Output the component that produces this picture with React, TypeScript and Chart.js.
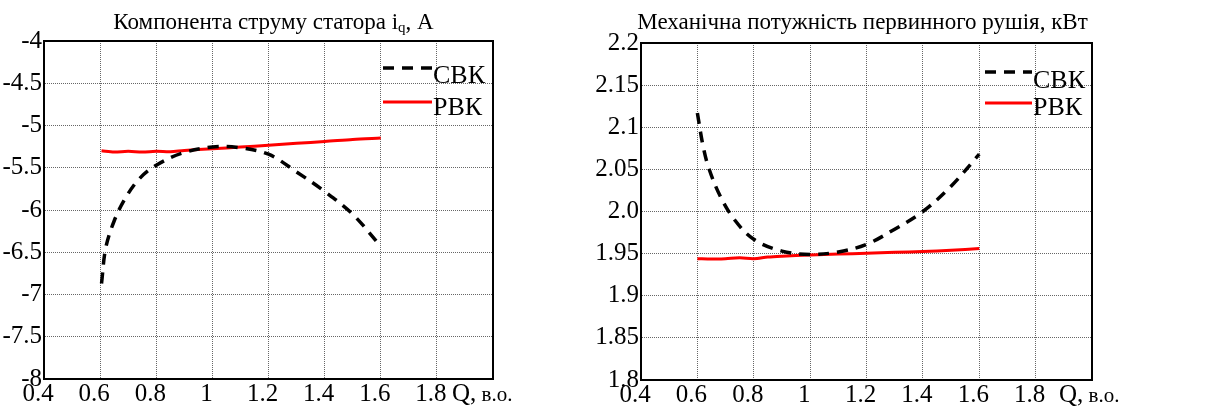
import React, { useEffect, useRef } from 'react';
import { Chart, registerables } from 'chart.js';
Chart.register(...registerables);

const FONT = '"Liberation Serif", "DejaVu Serif", serif';

// x ticks (Q, в.о.)
const xTicks = [0.4, 0.6, 0.8, 1.0, 1.2, 1.4, 1.6, 1.8, 2.0];
const xAxisUnit = 'Q,';
const xAxisUnitSmall = ' в.о.';

// Left panel: i_q component of stator current, A
const leftTitle = 'Компонента струму статора i';
const leftTitleSub = 'q';
const leftTitleTail = ', A';
const qLeftSvk = [0.605, 0.62, 0.65, 0.69, 0.74, 0.8, 0.89, 1.0, 1.09, 1.2, 1.3, 1.4, 1.5, 1.6];
const iqSvk = [-6.87, -6.45, -6.13, -5.86, -5.63, -5.47, -5.33, -5.255, -5.26, -5.34, -5.55, -5.78, -6.05, -6.43];
const qLeftRvk = [0.605, 0.65, 0.7, 0.75, 0.8, 0.85, 0.9, 1.0, 1.1, 1.2, 1.3, 1.4, 1.5, 1.6];
const iqRvk = [-5.30, -5.315, -5.305, -5.315, -5.305, -5.31, -5.295, -5.275, -5.255, -5.235, -5.21, -5.19, -5.165, -5.148];

// Right panel: mechanical power of prime mover, kW
const rightTitle = 'Механічна потужність первинного рушія, кВт';
const qRightSvk = [0.6, 0.62, 0.64, 0.68, 0.73, 0.8, 0.9, 1.0, 1.1, 1.2, 1.3, 1.4, 1.5, 1.6];
const pSvk = [2.117, 2.078, 2.052, 2.019, 1.991, 1.967, 1.953, 1.949, 1.952, 1.961, 1.979, 2.0, 2.03, 2.068];
const qRightRvk = [0.6, 0.65, 0.7, 0.75, 0.8, 0.85, 0.9, 1.0, 1.1, 1.2, 1.3, 1.4, 1.5, 1.6];
const pRvk = [1.944, 1.9435, 1.944, 1.945, 1.944, 1.946, 1.947, 1.9484, 1.9495, 1.9504, 1.9515, 1.9525, 1.954, 1.956];

const legendLabels = ['СВК', 'РВК'];
const svkColor = '#000000';
const rvkColor = '#ff0000';

type PanelCfg = {
  width: number;
  area: { left: number; top: number; right: number; bottom: number };
  title: { main: string; sub?: string; tail?: string; baseline: number; dx: number };
  xs: number[]; ys: number[]; xr: number[]; yr: number[];
  yMin: number; yMax: number; yStep: number;
  yFmt: (v: number) => string;
  legend: { lineLeft: number; lineRight: number; textLeft: number; y1: number; b1: number; y2: number; b2: number };
  unitDx: number;
};

function makeChart(canvas: HTMLCanvasElement, cfg: PanelCfg) {
  const H = 419;
  const deco = {
    id: 'deco',
    afterDraw(chart: any) {
      const { ctx, chartArea: a } = chart;
      ctx.save();
      ctx.strokeStyle = '#000';
      ctx.lineWidth = 2;
      ctx.setLineDash([]);
      ctx.strokeRect(a.left, a.top, a.right - a.left, a.bottom - a.top);
      ctx.fillStyle = '#000';
      ctx.textBaseline = 'alphabetic';
      ctx.textAlign = 'left';
      const big = `23px ${FONT}`;
      const small = `15px ${FONT}`;
      ctx.font = big;
      const w1 = ctx.measureText(cfg.title.main).width;
      ctx.font = small;
      const w2 = cfg.title.sub ? ctx.measureText(cfg.title.sub).width : 0;
      ctx.font = big;
      const w3 = cfg.title.tail ? ctx.measureText(cfg.title.tail).width : 0;
      let x = (a.left + a.right) / 2 + cfg.title.dx - (w1 + w2 + w3) / 2;
      const by = cfg.title.baseline;
      ctx.fillText(cfg.title.main, x, by);
      x += w1;
      if (cfg.title.sub) {
        ctx.font = small;
        ctx.fillText(cfg.title.sub, x, by + 3);
        x += w2;
      }
      if (cfg.title.tail) {
        ctx.font = big;
        ctx.fillText(cfg.title.tail, x, by);
      }
      const L = cfg.legend;
      ctx.lineWidth = 3.5;
      ctx.strokeStyle = svkColor;
      ctx.setLineDash([11, 8]);
      ctx.beginPath();
      ctx.moveTo(a.right + L.lineLeft, L.y1);
      ctx.lineTo(a.right + L.lineRight, L.y1);
      ctx.stroke();
      ctx.lineWidth = 3;
      ctx.strokeStyle = rvkColor;
      ctx.setLineDash([]);
      ctx.beginPath();
      ctx.moveTo(a.right + L.lineLeft, L.y2);
      ctx.lineTo(a.right + L.lineRight, L.y2);
      ctx.stroke();
      ctx.font = `26px ${FONT}`;
      ctx.fillStyle = '#000';
      ctx.fillText(legendLabels[0], a.right + L.textLeft, L.b1);
      ctx.fillText(legendLabels[1], a.right + L.textLeft, L.b2);
      const px = chart.scales.x.getPixelForValue(xTicks[xTicks.length - 1]);
      ctx.font = `25px ${FONT}`;
      const ub = a.bottom + 22;
      ctx.fillText(xAxisUnit, px + cfg.unitDx, ub);
      const qw = ctx.measureText(xAxisUnit).width;
      ctx.font = `21px ${FONT}`;
      ctx.fillText(xAxisUnitSmall, px + cfg.unitDx + qw, ub);
      ctx.restore();
    },
  };

  return new Chart(canvas, {
    type: 'line',
    data: {
      datasets: [
        {
          label: legendLabels[0],
          data: cfg.xs.map((x, i) => ({ x, y: cfg.ys[i] })),
          borderColor: svkColor,
          borderWidth: 3.5,
          borderDash: [11, 8],
          pointRadius: 0,
          tension: 0.35,
          fill: false,
        },
        {
          label: legendLabels[1],
          data: cfg.xr.map((x, i) => ({ x, y: cfg.yr[i] })),
          borderColor: rvkColor,
          borderWidth: 3,
          pointRadius: 0,
          tension: 0.3,
          fill: false,
        },
      ],
    },
    options: {
      animation: false,
      responsive: false,
      maintainAspectRatio: false,
      layout: {
        padding: { left: 0, top: cfg.area.top, right: cfg.width - cfg.area.right, bottom: 0 },
      },
      plugins: {
        legend: { display: false },
        title: { display: false },
        tooltip: { enabled: false },
      },
      scales: {
        x: {
          type: 'linear',
          min: 0.4,
          max: 2.0,
          afterBuildTicks: (s: any) => {
            s.ticks = xTicks.map((v) => ({ value: v }));
          },
          afterFit: (s: any) => {
            s.height = H - cfg.area.bottom;
          },
          ticks: {
            autoSkip: false,
            maxRotation: 0,
            padding: 0,
            labelOffset: -6,
            color: '#000',
            font: { family: FONT, size: 25 },
            callback: (v: any) => {
              const n = Number(v);
              if (Math.abs(n - 2) < 1e-9) return '';
              return String(Math.round(n * 10) / 10);
            },
          },
          grid: { color: 'rgba(0,0,0,0.6)', lineWidth: 1, drawTicks: false },
          border: { display: true, color: '#000', width: 2, dash: [1, 1] },
        },
        y: {
          type: 'linear',
          min: cfg.yMin,
          max: cfg.yMax,
          afterBuildTicks: (s: any) => {
            const t: any[] = [];
            const n = Math.round((cfg.yMax - cfg.yMin) / cfg.yStep);
            for (let i = 0; i <= n; i++) t.push({ value: cfg.yMin + i * cfg.yStep });
            s.ticks = t;
          },
          afterFit: (s: any) => {
            s.width = cfg.area.left;
          },
          ticks: {
            autoSkip: false,
            padding: 2,
            color: '#000',
            font: { family: FONT, size: 25 },
            callback: (v: any) => cfg.yFmt(Number(v)),
          },
          grid: { color: 'rgba(0,0,0,0.6)', lineWidth: 1, drawTicks: false },
          border: { display: true, color: '#000', width: 2, dash: [1, 1] },
        },
      },
    },
    plugins: [deco],
  } as any);
}

export default function App() {
  const leftRef = useRef<HTMLCanvasElement>(null);
  const rightRef = useRef<HTMLCanvasElement>(null);

  useEffect(() => {
    let cancelled = false;
    const charts: Chart[] = [];
    const build = () => {
      if (cancelled) return;
      charts.push(
        makeChart(leftRef.current!, {
          width: 585,
          area: { left: 44, top: 41, right: 493, bottom: 379 },
          title: { main: leftTitle, sub: leftTitleSub, tail: leftTitleTail, baseline: 29, dx: 5 },
          xs: qLeftSvk, ys: iqSvk, xr: qLeftRvk, yr: iqRvk,
          yMin: -8, yMax: -4, yStep: 0.5,
          yFmt: (v) => String(Math.round(v * 10) / 10),
          legend: { lineLeft: -110, lineRight: -61, textLeft: -60, y1: 68, b1: 83, y2: 102, b2: 115 },
          unitDx: -41,
        })
      );
      charts.push(
        makeChart(rightRef.current!, {
          width: 625,
          area: { left: 56, top: 43, right: 507, bottom: 380 },
          title: { main: rightTitle, baseline: 29, dx: -4 },
          xs: qRightSvk, ys: pSvk, xr: qRightRvk, yr: pRvk,
          yMin: 1.8, yMax: 2.2, yStep: 0.05,
          yFmt: (v) => (Math.abs(v - 2) < 1e-9 ? '2.0' : String(Math.round(v * 100) / 100)),
          legend: { lineLeft: -107, lineRight: -60, textLeft: -59, y1: 72, b1: 88, y2: 103, b2: 115 },
          unitDx: -33,
        })
      );
    };
    const fonts: any = (document as any).fonts;
    if (fonts && fonts.load) {
      Promise.all([
        fonts.load(`25px "Liberation Serif"`, 'СВК 0.4 Компонента'),
        fonts.load(`15px "Liberation Serif"`, 'q'),
      ]).then(build, build);
    } else {
      build();
    }
    return () => {
      cancelled = true;
      charts.forEach((c) => c.destroy());
    };
  }, []);

  return (
    <div style={{ position: 'absolute', left: 0, top: 0, width: 1210, height: 419, background: '#fff', fontFamily: FONT }}>
      <span style={{ position: 'absolute', left: -9999, top: 0, fontFamily: '"Liberation Serif"' }}>Компонента 0.4</span>
      <canvas ref={leftRef} width={585} height={419} style={{ position: 'absolute', left: 0, top: 0, width: 585, height: 419 }} />
      <canvas ref={rightRef} width={625} height={419} style={{ position: 'absolute', left: 585, top: 0, width: 625, height: 419 }} />
    </div>
  );
}
